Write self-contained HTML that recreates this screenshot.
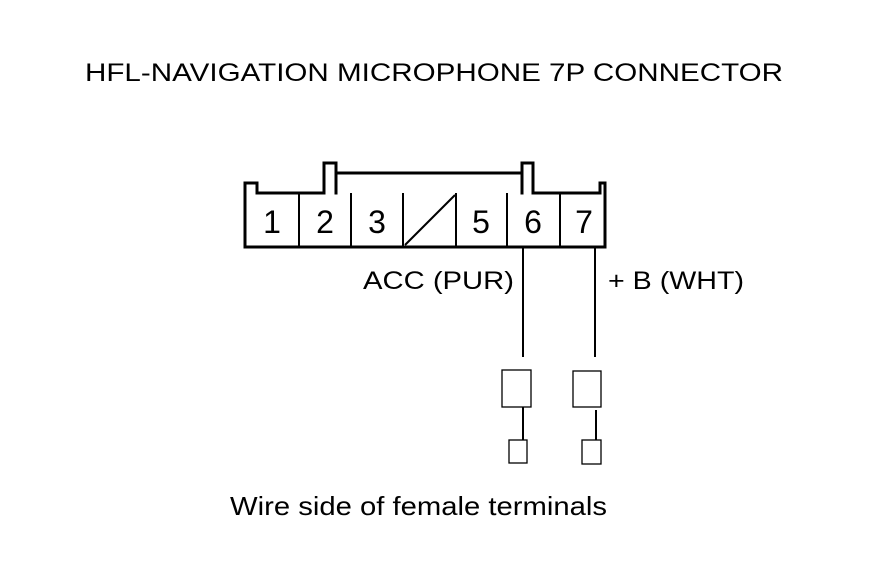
<!DOCTYPE html>
<html><head><meta charset="utf-8"><style>html,body{margin:0;padding:0;background:#fff}svg{display:block}</style></head>
<body>
<svg width="880" height="580" viewBox="0 0 880 580" xmlns="http://www.w3.org/2000/svg" font-family="Liberation Sans, Arial, sans-serif">
<rect width="880" height="580" fill="#fff"/>
<text x="85" y="81" font-size="25" textLength="698" lengthAdjust="spacingAndGlyphs">HFL-NAVIGATION MICROPHONE 7P CONNECTOR</text>
<g fill="none" stroke="#000" stroke-width="3" stroke-linejoin="miter" stroke-linecap="square">
<path d="M324,193 V163 H336 V193"/>
<path d="M522,193 V163 H533 V193"/>
<path d="M336,173 H522"/>
<path d="M257,193 H324"/>
<path d="M533,193 H600 V183 H605 V247 H245 V183 H257 V193"/>
</g>
<g stroke="#000" stroke-width="2">
<line x1="299" y1="193" x2="299" y2="247"/>
<line x1="351" y1="193" x2="351" y2="247"/>
<line x1="403" y1="193" x2="403" y2="247"/>
<line x1="456" y1="193" x2="456" y2="247"/>
<line x1="507" y1="193" x2="507" y2="247"/>
<line x1="560" y1="193" x2="560" y2="247"/>
<line x1="405" y1="245" x2="455" y2="195"/>
<line x1="523" y1="247" x2="523" y2="357"/>
<line x1="595" y1="247" x2="595" y2="357"/>
<line x1="523" y1="407" x2="523" y2="440"/>
<line x1="596" y1="410" x2="596" y2="440"/>
</g>
<g fill="none" stroke="#000" stroke-width="1.3">
<rect x="502" y="370" width="29" height="37"/>
<rect x="573" y="371" width="28" height="36"/>
<rect x="509" y="440" width="18" height="23"/>
<rect x="582" y="440" width="19" height="24"/>
</g>
<g font-size="32" text-anchor="middle">
<text x="272" y="233">1</text>
<text x="325" y="233">2</text>
<text x="377" y="233">3</text>
<text x="481" y="233">5</text>
<text x="533" y="233">6</text>
<text x="584" y="233">7</text>
</g>
<text x="363" y="289" font-size="25" textLength="151" lengthAdjust="spacingAndGlyphs">ACC (PUR)</text>
<text x="608" y="289" font-size="25" textLength="136" lengthAdjust="spacingAndGlyphs">+ B (WHT)</text>
<text x="230" y="515" font-size="26" textLength="377" lengthAdjust="spacingAndGlyphs">Wire side of female terminals</text>
</svg>
</body></html>
